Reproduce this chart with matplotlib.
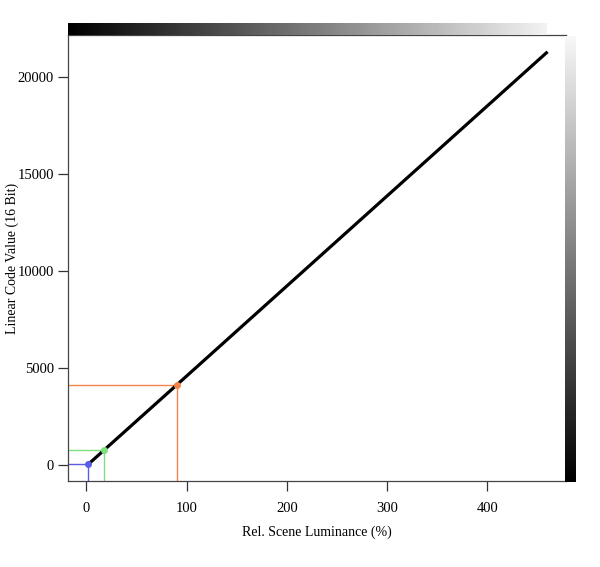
import numpy as np
import matplotlib
matplotlib.use("Agg")
import matplotlib.pyplot as plt

# data
lum = [2, 18, 90, 460]                 # Rel. scene luminance (%)
code = [40, 783, 4120, 21300]          # Linear code value (16 bit)
marks_x = [2, 18, 90]
marks_y = [40, 783, 4120]
mark_colors = ["#5c5ce6", "#7ee07e", "#f5844a"]
xticks = [0, 100, 200, 300, 400]
yticks = [0, 5000, 10000, 15000, 20000]

plt.rcParams['font.family'] = ['Liberation Serif', 'DejaVu Serif']

fig = plt.figure(figsize=(6, 5.67), dpi=100)
ax = fig.add_axes([68/600, 1-481/567, 498/600, 446/567])
xlim = (-18.4, 478.4)
ylim = (-830, 22165)
ax.set_xlim(*xlim)
ax.set_ylim(*ylim)

for x, y, c in zip(marks_x, marks_y, mark_colors):
    ax.plot([xlim[0], x], [y, y], color=c, lw=1.0, zorder=2)
    ax.plot([x, x], [ylim[0], y], color=c, lw=1.0, zorder=2)

ax.plot(lum, code, color="black", lw=2.3, zorder=3, solid_capstyle="butt")
for x, y, c in zip(marks_x, marks_y, mark_colors):
    ax.plot([x], [y], 'o', color=c, ms=4, zorder=4)

ax.set_xticks(xticks)
ax.set_yticks(yticks)
ax.tick_params(direction='out', length=7, width=0.9, color="#333333", labelsize=10.5)
ax.tick_params(axis='x', pad=8)
ax.tick_params(axis='y', pad=3)
for s in ax.spines.values():
    s.set_color("#444444")
    s.set_linewidth(0.9)
ax.set_xlabel("Rel. Scene Luminance (%)", fontsize=10, va='center')
ax.set_ylabel("Linear Code Value (16 Bit)", fontsize=10, va='center')
ax.xaxis.set_label_coords(0.5, (481-532)/446)
ax.yaxis.set_label_coords((12-68)/498, 0.5)

# top gradient bar
gt = fig.add_axes([68/600, 1-35/567, 479/600, 12/567])
grad = np.linspace(0, 0.95, 256).reshape(1, -1)
gt.imshow(grad, aspect='auto', cmap='gray', vmin=0, vmax=1)
gt.set_axis_off()

# right gradient bar
gr = fig.add_axes([565/600, 1-482/567, 11/600, 446/567])
gradv = np.linspace(0.97, 0, 256).reshape(-1, 1)
gr.imshow(gradv, aspect='auto', cmap='gray', vmin=0, vmax=1)
gr.set_axis_off()

fig.savefig("out.png", dpi=100)
